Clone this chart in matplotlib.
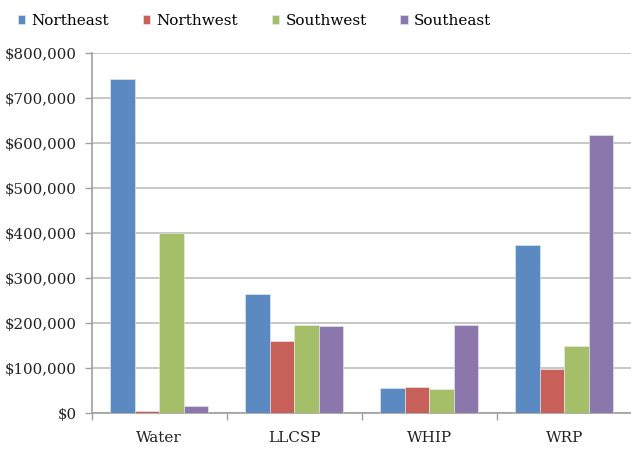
import matplotlib
matplotlib.use('Agg')
import matplotlib.pyplot as plt
import numpy as np
from matplotlib.ticker import FuncFormatter, FixedLocator

programs = ["Water", "LLCSP", "WHIP", "WRP"]
regions = ["Northeast", "Northwest", "Southwest", "Southeast"]
northeast = [744000, 266000, 56000, 374000]
northwest = [6000, 161000, 58000, 98000]
southwest = [401000, 196000, 53000, 150000]
southeast = [17000, 195000, 196000, 618000]
colors = ["#5b8ac3", "#c8605a", "#a5bf68", "#8c77ad"]

plt.rcParams['font.family'] = ['DejaVu Serif']

fig = plt.figure(figsize=(6.31, 4.51), dpi=100)
ax = fig.add_axes([91.7 / 631, (451 - 413.3) / 451, 540 / 631, 360 / 451])

x = np.arange(len(programs))
bar_w = 1 / (4 + 1.5)
series = [northeast, northwest, southwest, southeast]
for i, (vals, name, c) in enumerate(zip(series, regions, colors)):
    ax.bar(x + (i - 1.5) * bar_w, vals, width=bar_w, color=c, label=name,
           edgecolor="#e8eef5", linewidth=0.4, zorder=3)

ax.set_xlim(-0.5, 3.5)
ax.set_ylim(0, 800000)
ax.set_yticks(np.arange(0, 800001, 100000))
ax.yaxis.set_major_formatter(FuncFormatter(lambda v, p: "${:,.0f}".format(v)))
ax.yaxis.grid(True, color="#b8b8b8", linewidth=1.1, zorder=0)

ax.set_xticks(x)
ax.set_xticklabels(programs)
ax.tick_params(axis='x', which='major', length=0, pad=13, labelsize=11, colors="#222222")
ax.xaxis.set_minor_locator(FixedLocator([-0.5, 0.5, 1.5, 2.5]))
ax.tick_params(axis='x', which='minor', length=5, color="#a0a0a0", width=1)
ax.tick_params(axis='y', length=5, color="#a0a0a0", width=1, labelsize=10.8,
               labelcolor="#222222", pad=6)

for s in ["top", "right"]:
    ax.spines[s].set_visible(False)
for s in ["left", "bottom"]:
    ax.spines[s].set_color("#a0a0a0")
    ax.spines[s].set_linewidth(1.2)

fig.legend(loc="upper left", bbox_to_anchor=(0.006, 1.0), ncol=4, frameon=False,
           handlelength=0.5, handleheight=0.5, handletextpad=0.4,
           columnspacing=2.2, fontsize=11)

fig.savefig("out.png", dpi=100)
